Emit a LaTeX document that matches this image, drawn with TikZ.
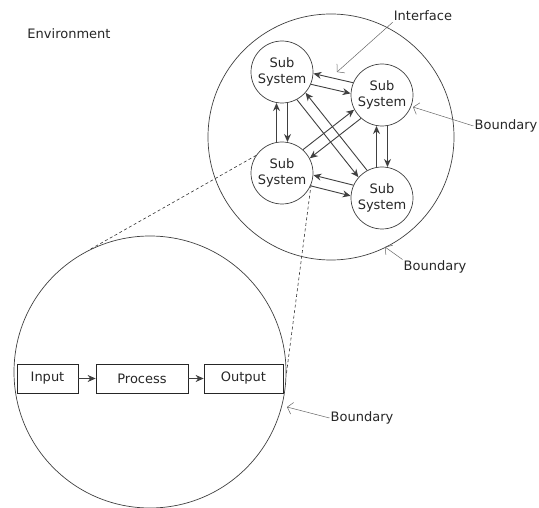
\documentclass[tikz,border=0pt]{standalone}
\usepackage{fontspec}
\setmainfont{DejaVu Sans}
\usetikzlibrary{arrows.meta,calc}
\begin{document}
\begin{tikzpicture}[x=1pt,y=-1pt,
  txt/.style={font=\fontsize{13}{16.5}\selectfont, text=black!85},
  ring/.style={circle, draw=black!75, line width=0.7pt, inner sep=0pt},
  sub/.style={ring, txt, minimum size=62pt, align=center},
  blk/.style={draw=black!85, line width=0.7pt, txt, minimum height=29pt, inner sep=0pt},
  flow/.style={draw=black!75, line width=0.9pt, -{Stealth[length=8pt,width=7pt]}},
  ptr/.style={draw=black!60, line width=0.5pt, -{Straight Barb[length=5pt,width=12pt]}},
  lbl/.style={txt, inner sep=1pt},
  zoomline/.style={draw=black!80, line width=0.6pt, dash pattern=on 3pt off 2.5pt}
]
\useasboundingbox (0,0) rectangle (539,508);

\newcommand\sarrow[4]{\draw[flow] ($(#1)!31pt!(#2)!5.5pt!#3:(#2)$) -- ($(#2)!31pt!(#1)!5.5pt!#4:(#1)$);}

% environment
\node[lbl] (envl) at (69,34) {Environment};

% upper system
\node[ring, minimum size=246pt] (sys) at (331,137) {};
\node[sub] (ta) at (282,72) {Sub\\System};
\node[sub] (tb) at (382,95) {Sub\\System};
\node[sub] (ba) at (282,173) {Sub\\System};
\node[sub] (bb) at (382,198) {Sub\\System};

% vertical pairs
\sarrow{ta}{ba}{90}{-90}
\sarrow{ba}{ta}{90}{-90}
\sarrow{tb}{bb}{90}{-90}
\sarrow{bb}{tb}{90}{-90}
% horizontal pairs
\sarrow{ta}{tb}{-90}{90}
\sarrow{tb}{ta}{-90}{90}
\sarrow{ba}{bb}{-90}{90}
\sarrow{bb}{ba}{-90}{90}
% diagonals
\sarrow{ta}{bb}{-90}{90}
\sarrow{bb}{ta}{-90}{90}
\sarrow{tb}{ba}{90}{-90}
\sarrow{ba}{tb}{90}{-90}

% lower system
\node[ring, minimum size=272pt] (low) at (150,372) {};
\node[blk, minimum width=61pt] (inp) at (47.5,378.5) {Input};
\node[blk, minimum width=92pt] (proc) at (142,378.5) {Process};
\node[blk, minimum width=79pt] (outp) at (243.5,378.5) {Output};
\draw[flow] (inp) -- (proc);
\draw[flow] (proc) -- (outp);

% zoom lines
\draw[zoomline] (ba.146) -- (low.117);
\draw[zoomline] (ba.-22) -- (low.-1);

% labels
\node[lbl] (intf) at (423,16) {Interface};
\coordinate (intfp) at (337,72);
\draw[ptr] (intf.south west) -- (intfp);

\node[lbl] (bd1) at (506,126) {Boundary};
\coordinate (bd1p) at (413,107);
\draw[ptr] (bd1.west) -- (bd1p);

\node[lbl] (bd2) at (435,267) {Boundary};
\coordinate (bd2p) at (385,247);
\draw[ptr] (bd2.north west) -- (bd2p);

\node[lbl] (bd3) at (362,418) {Boundary};
\coordinate (bd3p) at (287,407);
\draw[ptr] (bd3.west) -- (bd3p);
\end{tikzpicture}
\end{document}
